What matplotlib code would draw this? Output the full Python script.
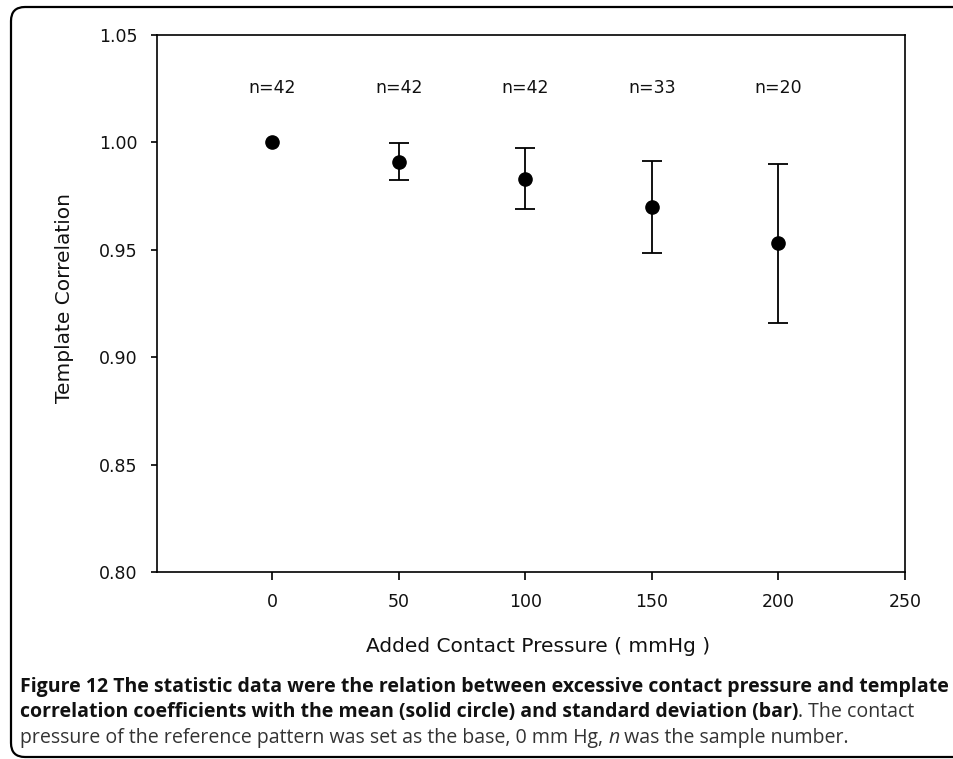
import matplotlib
matplotlib.use("Agg")
import matplotlib.pyplot as plt
from matplotlib.patches import PathPatch
from matplotlib.path import Path
from matplotlib.transforms import IdentityTransform

# ---- data ----
pressure = [0, 50, 100, 150, 200]
mean_corr = [1.000, 0.991, 0.983, 0.970, 0.953]
sd_corr = [0.0, 0.0087, 0.0142, 0.0215, 0.0369]
n_labels = ["n=42", "n=42", "n=42", "n=33", "n=20"]
xticks = [0, 50, 100, 150, 200, 250]
yticks = [0.80, 0.85, 0.90, 0.95, 1.00, 1.05]
xlabel = "Added Contact Pressure ( mmHg )"
ylabel = "Template Correlation"

W, H = 954, 759
fig = plt.figure(figsize=(W / 100, H / 100), dpi=100)
fig.patch.set_facecolor("white")

ax = fig.add_axes([157 / W, 1 - 572 / H, (905 - 157) / W, (572 - 35) / H])
tick_font = "DejaVu Sans"

# error bars only where sd > 0
ex = [p for p, s in zip(pressure, sd_corr) if s > 0]
ey = [m for m, s in zip(mean_corr, sd_corr) if s > 0]
es = [s for s in sd_corr if s > 0]
ax.errorbar(ex, ey, yerr=es, fmt="none", ecolor="black", elinewidth=1.3,
            capsize=7, capthick=1.3, zorder=2)
ax.plot(pressure, mean_corr, "o", color="black", ms=9.5, zorder=3)

for x, lab in zip(pressure, n_labels):
    ax.text(x, 1.0255, lab, ha="center", va="center", fontsize=12.5,
            family=tick_font, color="#111111")

ax.set_xlim(-45.5, 250)
ax.set_ylim(0.80, 1.05)
ax.set_xticks(xticks)
ax.set_xticklabels([str(t) for t in xticks], family=tick_font, fontsize=12.5,
                   color="#111111")
ax.set_yticks(yticks)
ax.set_yticklabels([f"{t:.2f}" for t in yticks], family=tick_font, fontsize=12.5,
                   color="#111111")
ax.tick_params(axis="x", length=6, width=1.2, pad=9)
ax.tick_params(axis="y", length=4, width=1.2, pad=10)
for sp in ax.spines.values():
    sp.set_linewidth(1.2)

fig.text(65 / W, 1 - 298 / H, ylabel, rotation=90, ha="center", va="center",
         fontsize=14.5, family=tick_font, color="#111111")
fig.text(538 / W, 1 - 647 / H, xlabel, ha="center", va="center",
         fontsize=14.5, family=tick_font, color="#111111")

# ---- caption ----
cap_font = "Open Sans"
renderer = fig.canvas.get_renderer()
line1 = "Figure 12 The statistic data were the relation between excessive contact pressure and template"
probe = fig.text(0, 0, line1, fontsize=12, family=cap_font, weight="bold")
w = probe.get_window_extent(renderer).width
probe.remove()
fs = 12 * (947 - 20) / w


def draw_runs(ybase, runs, x0=20):
    x = x0
    for s, kw in runs:
        opts = dict(ha="left", va="baseline", fontsize=fs, family=cap_font,
                    color="#111111")
        opts.update(kw)
        t = fig.text(x / W, 1 - ybase / H, s, **opts)
        x = t.get_window_extent(renderer).x1


draw_runs(692, [(line1, dict(weight="bold"))])
draw_runs(717, [("correlation coefficients with the mean (solid circle) and standard deviation (bar)",
                 dict(weight="bold")),
                (". The contact", dict(color="#333333"))])
draw_runs(743, [("pressure of the reference pattern was set as the base, 0 mm Hg, ",
                 dict(color="#333333")),
                ("n", dict(style="italic", color="#333333")),
                (" was the sample number.", dict(color="#333333"))])

# ---- rounded frame: top, left and bottom edges (right edge off-canvas) ----
left, top, bottom, r = 11, H - 7, H - 757, 14
verts = [(W + 20, top), (left + r, top), (left, top), (left, top - r),
         (left, bottom + r), (left, bottom), (left + r, bottom), (W + 20, bottom)]
codes = [Path.MOVETO, Path.LINETO, Path.CURVE3, Path.CURVE3,
         Path.LINETO, Path.CURVE3, Path.CURVE3, Path.LINETO]
frame = PathPatch(Path(verts, codes), transform=IdentityTransform(), fill=False,
                  ec="black", lw=1.6)
fig.patches.append(frame)

fig.savefig("out.png", dpi=100)
